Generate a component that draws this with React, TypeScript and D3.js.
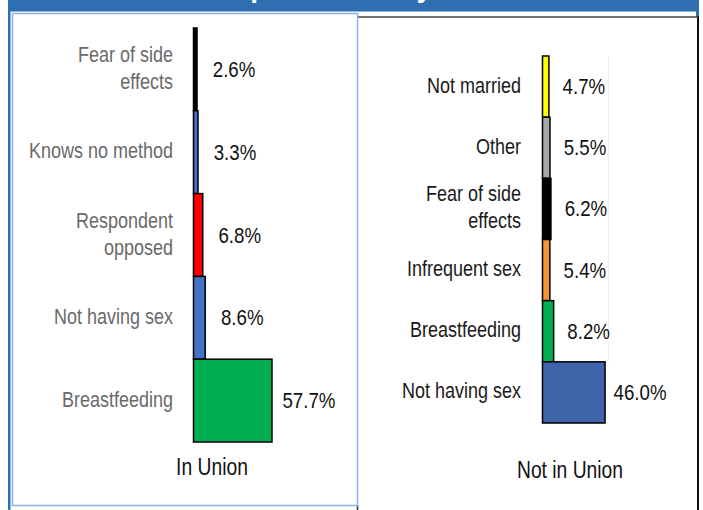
import React from "react";
import * as d3 from "d3";

// ---- data ----
const inUnionCategories = ["Fear of side effects", "Knows no method", "Respondent opposed", "Not having sex", "Breastfeeding"];
const inUnionValues = [2.6, 3.3, 6.8, 8.6, 57.7];
const notInUnionCategories = ["Not married", "Other", "Fear of side effects", "Infrequent sex", "Breastfeeding", "Not having sex"];
const notInUnionValues = [4.7, 5.5, 6.2, 5.4, 8.2, 46.0];
const panelTitles = ["In Union", "Not in Union"];
const chartTitle = "Top Reasons by Union Status";

// ---- styles ----
const inUnionColors = ["#000000", "#4472C4", "#FF0000", "#4472C4", "#00B050"];
const notInUnionColors = ["#FFFF00", "#A6A6A6", "#000000", "#F79332", "#00B050", "#3F64AA"];
const lineBreaks: Record<string, string[]> = {
  "Fear of side effects": ["Fear of side", "effects"],
  "Respondent opposed": ["Respondent", "opposed"],
};

const W = 703;
const H = 510;
const FONT = "'Liberation Sans', Arial, sans-serif";
const STRETCH = 1.2;

const widthScale = d3.scaleLinear().domain([0, 100]).range([0, 136]);

function TallText(props: { x: number; y: number; size: number; anchor: string; fill: string; children: React.ReactNode }) {
  return (
    <text
      transform={`translate(${props.x},${props.y}) scale(1,${STRETCH})`}
      textAnchor={props.anchor}
      fontFamily={FONT}
      fontSize={props.size}
      fill={props.fill}
    >
      {props.children}
    </text>
  );
}

type PanelProps = {
  cats: string[];
  vals: number[];
  colors: string[];
  y0: number;
  y1: number;
  barX: number;
  labelX: number;
  labelColor: string;
  valueOffset: number;
  title: string;
  titleX: number;
  titleY: number;
};

function Panel(p: PanelProps) {
  const y = d3.scaleBand<string>().domain(p.cats).range([p.y0, p.y1]).paddingInner(0).paddingOuter(0);
  const fmt = (v: number) => v.toFixed(1) + "%";
  return (
    <g>
      {p.cats.map((c, i) => {
        const top = y(c)!;
        const bw = y.bandwidth();
        const w = widthScale(p.vals[i]);
        const mid = top + bw / 2;
        const lines = lineBreaks[c] || [c];
        const lh = 27;
        const labelMid = mid - 1.5;
        return (
          <g key={c}>
            <rect x={p.barX} y={top} width={w} height={bw} fill={p.colors[i]} stroke="#000" strokeWidth={1.5} />
            {lines.map((l, j) => (
              <TallText
                key={j}
                x={p.labelX}
                y={labelMid + 7.5 + (j - (lines.length - 1) / 2) * lh}
                size={18}
                anchor="end"
                fill={p.labelColor}
              >
                {l}
              </TallText>
            ))}
            <TallText x={p.barX + w + p.valueOffset} y={mid + 7.5} size={18.7} anchor="middle" fill="#111">
              {fmt(p.vals[i])}
            </TallText>
          </g>
        );
      })}
      <TallText x={p.titleX} y={p.titleY} size={19.3} anchor="middle" fill="#111">
        {p.title}
      </TallText>
    </g>
  );
}

export default function App() {
  return (
    <svg
      width={W}
      height={H}
      viewBox={`0 0 ${W} ${H}`}
      style={{ position: "absolute", left: 0, top: 0, background: "#fff" }}
    >
      <rect x={0} y={0} width={W} height={H} fill="#fff" />
      {/* header band */}
      <rect x={8} y={0} width={689} height={11.5} fill="#2E6FB2" />
      <text x={218} y={-3} fontFamily={FONT} fontWeight="bold" fontSize={28} fill="#fff">
        {chartTitle}
      </text>
      {/* left dark blue strip */}
      <rect x={8} y={0} width={2.5} height={H} fill="#2E6FB2" />
      {/* right side strip */}
      <rect x={696} y={0} width={3} height={17} fill="#2E6FB2" />
      <line x1={698} y1={16} x2={698} y2={H} stroke="#111" strokeWidth={2} />
      {/* right panel top line */}
      <line x1={357} y1={17} x2={698} y2={17} stroke="#444" strokeWidth={1.6} />
      <line x1={357.5} y1={505} x2={357.5} y2={H} stroke="#333" strokeWidth={1.5} />
      {/* left panel border */}
      <rect x={12.5} y={13.5} width={345} height={492} fill="#fff" stroke="#8DB3E2" strokeWidth={1.5} />
      {/* faint plot-area line in right panel */}
      <line x1={608.5} y1={56} x2={608.5} y2={362} stroke="#f0f0f0" strokeWidth={1} />

      <Panel
        cats={inUnionCategories}
        vals={inUnionValues}
        colors={inUnionColors}
        y0={28}
        y1={442}
        barX={193.5}
        labelX={173}
        labelColor="#6a6a6a"
        valueOffset={37}
        title={panelTitles[0]}
        titleX={212}
        titleY={475}
      />
      <Panel
        cats={notInUnionCategories}
        vals={notInUnionValues}
        colors={notInUnionColors}
        y0={56}
        y1={423}
        barX={542.5}
        labelX={521}
        labelColor="#1a1a1a"
        valueOffset={35}
        title={panelTitles[1]}
        titleX={570}
        titleY={478}
      />
    </svg>
  );
}
